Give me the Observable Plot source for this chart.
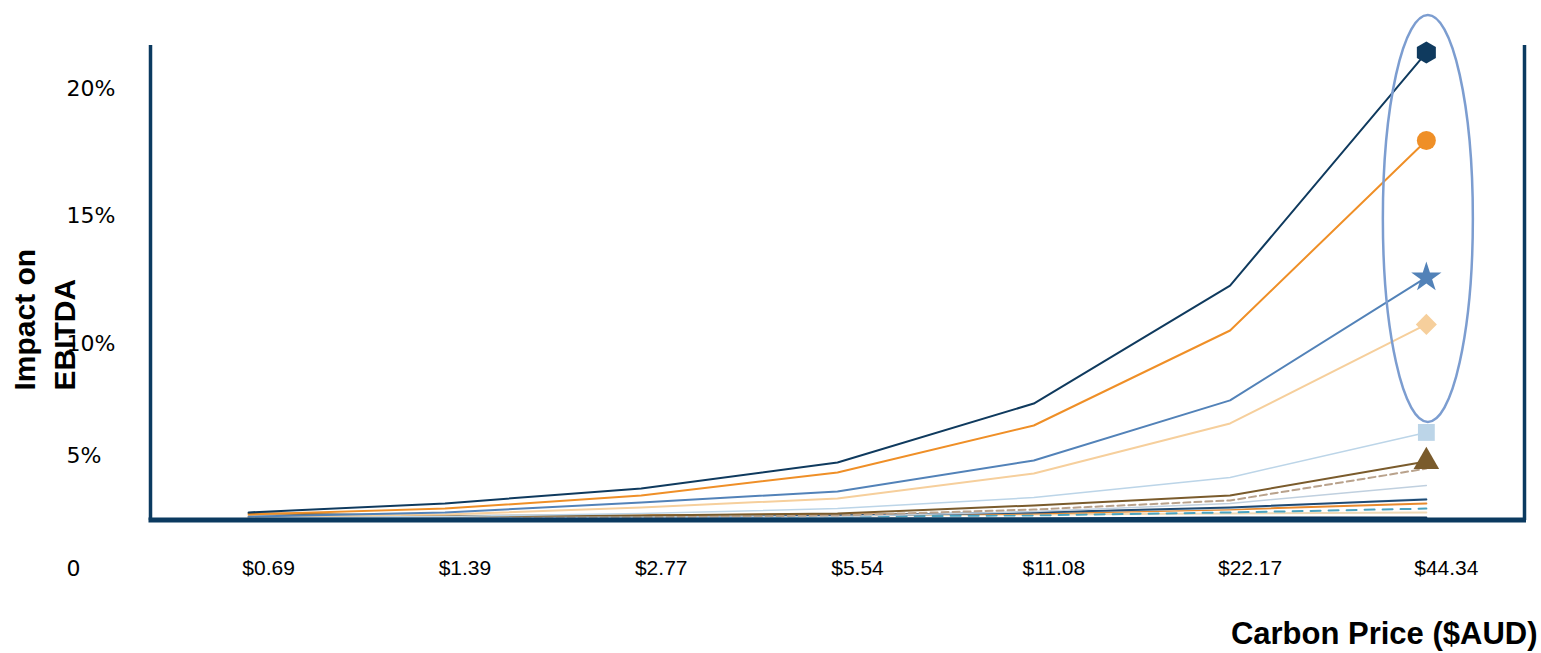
<!DOCTYPE html>
<html><head><meta charset="utf-8">
<script src="https://cdn.jsdelivr.net/npm/d3@7"></script>
<script src="https://cdn.jsdelivr.net/npm/@observablehq/plot@0.6"></script>
<style>
html,body{margin:0;padding:0;background:#fff;}
#chart svg{display:block;}
</style></head><body><div id="chart"></div>
<script>
// ---- data ----
const categories = ["$0.69", "$1.39", "$2.77", "$5.54", "$11.08", "$22.17", "$44.34"];
const yTickValues = [0, 5, 10, 15, 20];
const yTickLabels = ["0", "5%", "10%", "15%", "20%"];
const xTitle = "Carbon Price ($AUD)";
const yTitle = "Impact on\nEBITDA";

// impact on EBITDA (%) per carbon price, one array per company
const companyA = [2.48, 2.88, 3.54, 4.69, 7.32, 12.27, 21.41];
const companyB = [2.39, 2.65, 3.23, 4.25, 6.34, 10.51, 17.96];
const companyC = [2.30, 2.48, 2.92, 3.41, 4.78, 7.46, 12.59];
const companyD = [2.30, 2.39, 2.70, 3.10, 4.20, 6.43, 10.75];
const companyE = [2.26, 2.30, 2.43, 2.65, 3.14, 4.03, 6.03];
const companyF = [2.45, 2.32, 2.35, 2.43, 2.79, 3.23, 4.73];
const companyG = [2.21, 2.21, 2.26, 2.35, 2.61, 3.01, 4.42];
const companyH = [2.21, 2.21, 2.26, 2.30, 2.52, 2.88, 3.67];
const companyI = [2.21, 2.21, 2.21, 2.35, 2.48, 2.70, 3.05];
const companyJ = [2.26, 2.30, 2.35, 2.39, 2.43, 2.61, 2.88];
const companyK = [2.21, 2.21, 2.26, 2.30, 2.35, 2.48, 2.65];
const companyL = [2.30, 2.30, 2.35, 2.35, 2.39, 2.43, 2.48];
const companyM = [2.26, 2.26, 2.30, 2.35, 2.48, 2.65, 3.10];
const companyN = [2.17, 2.17, 2.17, 2.21, 2.21, 2.26, 2.26];

// the printed value axis is broken: its labels are unevenly spaced
const yBreakValues = [0, 5, 10, 20];
const yBreakSpans = [0, 113, 225, 480];

// ---- styles (kept apart from data) ----
const seriesStyles = [
  {values: companyN, stroke: "#0a2f50", width: 2},
  {values: companyL, stroke: "#efd9b5", width: 2},
  {values: companyK, stroke: "#4aa3c0", width: 2, dash: "10,8"},
  {values: companyJ, stroke: "#e88a2e", width: 2},
  {values: companyM, stroke: "#cfe0ee", width: 1.5},
  {values: companyI, stroke: "#1f4a73", width: 2},
  {values: companyH, stroke: "#c0d0df", width: 1.5},
  {values: companyG, stroke: "#b9a28c", width: 2, dash: "7,4"},
  {values: companyF, stroke: "#7a5b2c", width: 2, symbol: "triangle"},
  {values: companyE, stroke: "#bcd5e8", width: 1.5, symbol: "square"},
  {values: companyD, stroke: "#f6cf9c", width: 2, symbol: "diamond2"},
  {values: companyC, stroke: "#5282b8", width: 2, symbol: "star"},
  {values: companyB, stroke: "#ef8f27", width: 2, symbol: "circle"},
  {values: companyA, stroke: "#0f3a5e", width: 2, symbol: "hexagon"}
];

const W = 1541, H = 653;
const margin = {top: 45, right: 17, bottom: 133, left: 150};
const xDomain = [-0.5, categories.length - 0.5];
const yBottomPx = 568, yTopPx = 88;
const frameColor = "#0b3a60";
const font = "'Liberation Sans', Arial, sans-serif";

const brokenAxis = d3.scaleLinear().domain(yBreakValues).range(yBreakSpans);
const yLinear = d3.scaleLinear().domain([yBreakSpans[0], yBreakSpans[yBreakSpans.length - 1]]).range([yBottomPx, yTopPx]);
const yPixel = v => yLinear(brokenAxis(v));
const xPixel = d3.scaleLinear().domain(xDomain).range([margin.left, W - margin.right]);

const idx = categories.map((_, i) => i);
const lastIndex = categories.length - 1;

const lineMarks = seriesStyles.map(s =>
  Plot.line(idx, {
    x: i => i, y: i => s.values[i],
    stroke: s.stroke, strokeWidth: s.width,
    strokeDasharray: s.dash, curve: "linear"
  })
);
const dotMarks = seriesStyles.filter(s => s.symbol).map(s =>
  Plot.dot([lastIndex], {
    x: i => i, y: i => s.values[i],
    symbol: s.symbol, fill: s.stroke, r: 9.5, stroke: "none"
  })
);

// highlight ellipse around the four highest series at the last price
const highlighted = [companyA, companyB, companyC, companyD];
function highlightEllipse() {
  const last = highlighted.map(a => a[lastIndex]);
  const top = yPixel(d3.max(last)) - 37;
  const bottom = yPixel(d3.min(last)) + 98;
  const g = d3.create("svg:g");
  g.append("ellipse")
    .attr("cx", xPixel(lastIndex) + 2)
    .attr("cy", (top + bottom) / 2)
    .attr("rx", 45)
    .attr("ry", (bottom - top) / 2)
    .attr("fill", "none")
    .attr("stroke", "#7c9dd0")
    .attr("stroke-width", 2.5);
  return g.node();
}
function bottomFrame() {
  const g = d3.create("svg:g");
  const yb = H - margin.bottom;
  g.append("line")
    .attr("x1", margin.left - 1.5).attr("x2", W - margin.right + 2)
    .attr("y1", yb).attr("y2", yb)
    .attr("stroke", frameColor).attr("stroke-width", 5);
  return g.node();
}

const chart = Plot.plot({
  width: W, height: H,
  marginTop: margin.top, marginRight: margin.right,
  marginBottom: margin.bottom, marginLeft: margin.left,
  style: {fontFamily: font, background: "#fff", color: "#000"},
  x: {domain: xDomain, axis: null},
  y: {
    transform: v => brokenAxis(v),
    domain: [yBreakSpans[0], yBreakSpans[yBreakSpans.length - 1]],
    range: [yBottomPx, yTopPx], axis: null
  },
  marks: [
    ...lineMarks,
    highlightEllipse,
    ...dotMarks,
    Plot.ruleX(xDomain, {stroke: frameColor, strokeWidth: 3.5}),
    bottomFrame,
    // y tick labels
    Plot.text(yTickValues, {
      y: d => d, text: (d, i) => yTickLabels[i],
      frameAnchor: "left", dx: -84, textAnchor: "start", lineAnchor: "middle",
      fontSize: 22, fontFamily: "'DejaVu Sans', sans-serif", fill: "#000"
    }),
    // x tick labels
    Plot.text(idx, {
      x: i => i, text: i => categories[i],
      frameAnchor: "bottom", dy: 48, dx: 20, lineAnchor: "middle",
      fontSize: 21, fill: "#000"
    }),
    // axis titles
    Plot.text([xTitle], {
      text: d => d, frameAnchor: "bottom-right", dx: 13, dy: 123,
      textAnchor: "end", lineAnchor: "bottom",
      fontSize: 31, fontWeight: "bold", fill: "#000"
    }),
    Plot.text([yTitle], {
      text: d => d, frameAnchor: "left", dx: -76, dy: 107.5,
      rotate: -90, textAnchor: "start", lineAnchor: "bottom", lineHeight: 1.33,
      fontSize: 30, fontWeight: "bold", fill: "#000"
    })
  ]
});
document.getElementById("chart").appendChild(chart);
</script>
</body></html>
